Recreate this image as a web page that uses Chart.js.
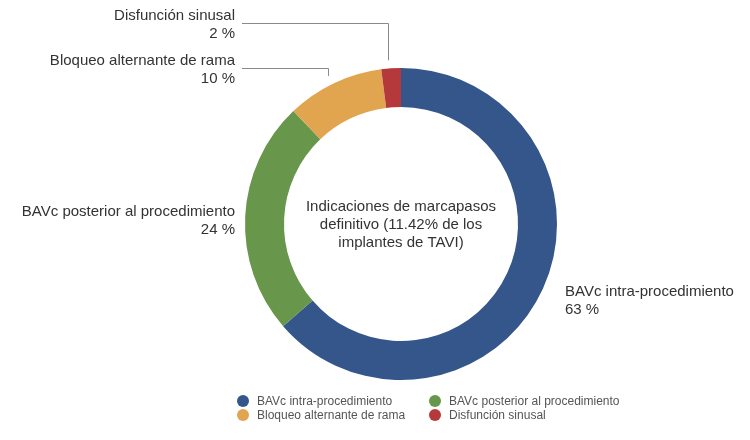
<!DOCTYPE html>
<html>
<head>
<meta charset="utf-8">
<script src="https://cdn.jsdelivr.net/npm/chart.js@4.4.0/dist/chart.umd.min.js"></script>
<style>
  html, body { margin: 0; padding: 0; background: #ffffff; }
  #wrap { width: 750px; height: 440px; position: relative; }
</style>
</head>
<body>
<div id="wrap"><canvas id="c" width="750" height="440"></canvas></div>
<script>
const categories = ["BAVc intra-procedimiento", "BAVc posterior al procedimiento", "Bloqueo alternante de rama", "Disfunción sinusal"];
const values = [63, 24, 10, 2];
const valueLabels = ["63 %", "24 %", "10 %", "2 %"];
const colors = ["#34568a", "#68974c", "#e1a44f", "#b5383a"];
const centerLines = ["Indicaciones de marcapasos", "definitivo (11.42% de los", "implantes de TAVI)"];

const FONT = "'Liberation Sans', Arial, Helvetica, sans-serif";

// placement of the outer labels (text anchor + alignment)
const labelPlace = [
  { x: 565, y: 292, align: "left", leader: false },
  { x: 235, y: 212, align: "right", leader: false },
  { x: 235, y: 61, align: "right", leader: true },
  { x: 235, y: 16, align: "right", leader: true }
];

const annotatePlugin = {
  id: "annotate",
  afterDraw(chart) {
    const ctx = chart.ctx;
    const meta = chart.getDatasetMeta(0);
    ctx.save();
    // center text
    const a0 = meta.data[0];
    ctx.fillStyle = "#333333";
    ctx.font = "15px " + FONT;
    ctx.textAlign = "center";
    ctx.textBaseline = "middle";
    centerLines.forEach((t, i) => {
      ctx.fillText(t, a0.x, a0.y - 17 + i * 18);
    });
    // outer labels
    meta.data.forEach((arc, i) => {
      const p = labelPlace[i];
      ctx.fillStyle = "#333333";
      ctx.font = "15px " + FONT;
      ctx.textAlign = p.align;
      ctx.textBaseline = "middle";
      ctx.fillText(categories[i], p.x, p.y);
      ctx.fillText(valueLabels[i], p.x, p.y + 17.5);
      if (p.leader) {
        const mid = (arc.startAngle + arc.endAngle) / 2;
        const r = arc.outerRadius + 8;
        const ex = arc.x + Math.cos(mid) * r - 3;
        const ey = arc.y + Math.sin(mid) * r;
        const ly = p.y + 7;
        ctx.strokeStyle = "#8a8a8a";
        ctx.lineWidth = 1;
        ctx.beginPath();
        ctx.moveTo(Math.round(ex) + 0.5, ey);
        ctx.lineTo(Math.round(ex) + 0.5, Math.round(ly) + 0.5);
        ctx.lineTo(p.x + 7, Math.round(ly) + 0.5);
        ctx.stroke();
      }
    });
    // legend
    const legX = [243, 435];
    const legY = [401, 415];
    ctx.font = "12px " + FONT;
    ctx.textAlign = "left";
    ctx.textBaseline = "middle";
    categories.forEach((t, i) => {
      const cx = legX[i % 2];
      const cy = legY[Math.floor(i / 2)];
      ctx.fillStyle = colors[i];
      ctx.beginPath();
      ctx.arc(cx, cy, 6, 0, Math.PI * 2);
      ctx.fill();
      ctx.fillStyle = "#555555";
      ctx.fillText(t, cx + 14, cy + 0.5);
    });
    ctx.restore();
  }
};

new Chart(document.getElementById("c"), {
  type: "doughnut",
  data: {
    labels: categories,
    datasets: [{
      data: values,
      backgroundColor: colors,
      borderWidth: 0,
      hoverOffset: 0
    }]
  },
  options: {
    responsive: false,
    animation: false,
    cutout: "75%",
    layout: { padding: { left: 90, right: 38, top: 68, bottom: 60 } },
    plugins: {
      legend: { display: false },
      tooltip: { enabled: false }
    }
  },
  plugins: [annotatePlugin]
});
</script>
</body>
</html>
